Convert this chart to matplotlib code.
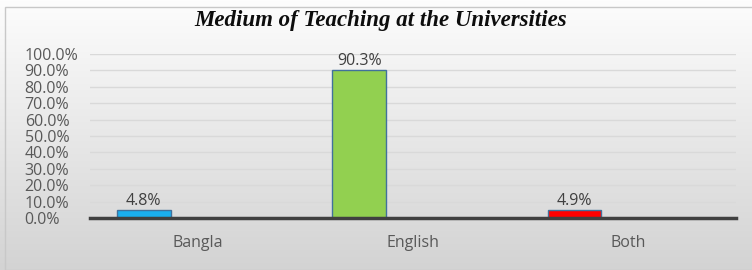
import numpy as np
import matplotlib
matplotlib.use('Agg')
import matplotlib.pyplot as plt
from matplotlib.patches import Rectangle

categories = ['Bangla', 'English', 'Both']
shares = [4.8, 90.3, 4.9]
bar_colors = ['#1AAFEF', '#92D050', '#FF0000']
y_ticks = [0, 10, 20, 30, 40, 50, 60, 70, 80, 90, 100]

fig = plt.figure(figsize=(7.52, 2.70), dpi=100)

# background gradient (white at top -> light grey at bottom)
bg = fig.add_axes([0, 0, 1, 1], zorder=-10)
grad = np.linspace(0, 1, 256).reshape(-1, 1)
bg.imshow(grad, aspect='auto', cmap=matplotlib.colors.LinearSegmentedColormap.from_list(
    'bg', ['#FDFDFD', '#D3D3D3']), extent=[0, 1, 0, 1], origin='upper')
bg.add_patch(Rectangle((5 / 752, 0), 1, 263 / 270, fill=False,
                       edgecolor='#C8C8C8', lw=1))
bg.axis('off')
bg.set_xlim(0, 1)
bg.set_ylim(0, 1)

ax = fig.add_axes([90 / 752, 52 / 270, 646 / 752, 164 / 270])
ax.patch.set_alpha(0)

x = np.arange(len(categories))
bars = ax.bar(x - 0.25, shares, width=0.25, color=bar_colors,
              edgecolor='#41719C', linewidth=1, zorder=3)
for b, v in zip(bars, shares):
    ax.text(b.get_x() + b.get_width() / 2, v + 0.6, '{0:.1f}%'.format(v),
            ha='center', va='bottom', fontsize=11.5, color='#404040',
            family='Open Sans', clip_on=False)

ax.set_xlim(-0.5, 2.5)
ax.set_ylim(0, 100)
ax.set_yticks(y_ticks)
ax.set_yticklabels(['{0:.1f}%'.format(t) for t in y_ticks], ha='left',
                   fontsize=11.5, color='#595959', family='Open Sans')
ax.tick_params(axis='y', length=0, pad=47)
ax.set_xticks(x)
ax.set_xticklabels(categories, fontsize=11.5, color='#595959', family='Open Sans')
ax.tick_params(axis='x', length=0, pad=12.5)
ax.grid(axis='y', color='#D9D9D9', lw=1, zorder=0)
for s in ('top', 'right', 'left'):
    ax.spines[s].set_visible(False)
ax.spines['bottom'].set_color('#404040')
ax.spines['bottom'].set_linewidth(2.5)
ax.spines['bottom'].set_zorder(4)

fig.text(381 / 752, 1 - 21 / 270, 'Medium of Teaching at the Universities',
         ha='center', va='center', fontsize=16.5, fontweight='bold',
         style='italic', family='Liberation Serif', color='#0D0D0D')

fig.savefig('out.png', dpi=100)
